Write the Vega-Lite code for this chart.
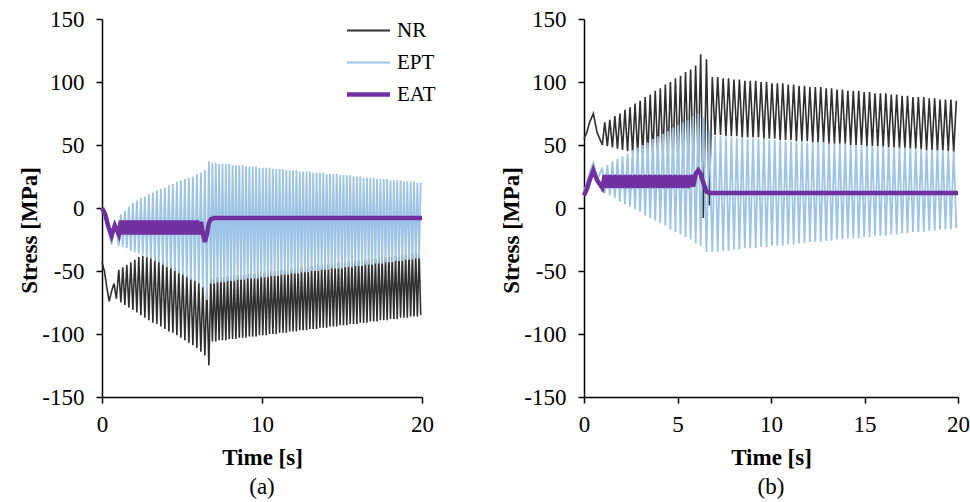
{
"$schema": "https://vega.github.io/schema/vega-lite/v6.json",
"background": "white",
"padding": {"left": 18, "top": 8, "right": 0, "bottom": 4},
"config": {
 "font": "Liberation Serif",
 "view": {"stroke": null},
 "axis": {"grid": false, "domainColor": "#000", "tickColor": "#000", "domainWidth": 1.5, "tickWidth": 1.5, "tickSize": 6, "labelFont": "Liberation Serif", "labelFontSize": 23, "labelColor": "#000", "titleFont": "Liberation Serif", "titleFontSize": 23, "titleColor": "#000", "titleFontWeight": "bold", "labelOverlap": false, "labelFlush": false},
 "title": {"font": "Liberation Serif", "fontSize": 23, "fontWeight": "normal", "color": "#000"}
},
"datasets": {
"a": [
{"s":"NR","t":0,"v":-43},{"s":"NR","t":0.15,"v":-50},{"s":"NR","t":0.3,"v":-63},{"s":"NR","t":0.45,"v":-74},{"s":"NR","t":0.6,"v":-66},{"s":"NR","t":0.75,"v":-60},{"s":"NR","t":0.9,"v":-72},
{"s":"NR","t":1.05,"v":-49},{"s":"NR","t":1.18,"v":-75},{"s":"NR","t":1.30,"v":-47},{"s":"NR","t":1.43,"v":-77},{"s":"NR","t":1.55,"v":-45},{"s":"NR","t":1.68,"v":-79},{"s":"NR","t":1.80,"v":-43},{"s":"NR","t":1.93,"v":-81},{"s":"NR","t":2.05,"v":-41},{"s":"NR","t":2.18,"v":-83},{"s":"NR","t":2.30,"v":-39},{"s":"NR","t":2.43,"v":-85},{"s":"NR","t":2.55,"v":-38},{"s":"NR","t":2.68,"v":-87},{"s":"NR","t":2.80,"v":-39},{"s":"NR","t":2.93,"v":-89},{"s":"NR","t":3.05,"v":-39},{"s":"NR","t":3.18,"v":-91},{"s":"NR","t":3.30,"v":-40},{"s":"NR","t":3.43,"v":-92},{"s":"NR","t":3.55,"v":-41},{"s":"NR","t":3.68,"v":-94},{"s":"NR","t":3.80,"v":-42},{"s":"NR","t":3.93,"v":-96},{"s":"NR","t":4.05,"v":-43},{"s":"NR","t":4.18,"v":-98},{"s":"NR","t":4.30,"v":-45},{"s":"NR","t":4.43,"v":-99},{"s":"NR","t":4.55,"v":-47},{"s":"NR","t":4.68,"v":-101},{"s":"NR","t":4.80,"v":-49},{"s":"NR","t":4.93,"v":-103},{"s":"NR","t":5.05,"v":-51},{"s":"NR","t":5.18,"v":-105},{"s":"NR","t":5.30,"v":-53},{"s":"NR","t":5.43,"v":-107},{"s":"NR","t":5.55,"v":-55},{"s":"NR","t":5.68,"v":-109},{"s":"NR","t":5.80,"v":-57},{"s":"NR","t":5.93,"v":-111},{"s":"NR","t":6.05,"v":-59},{"s":"NR","t":6.18,"v":-114},{"s":"NR","t":6.30,"v":-62},{"s":"NR","t":6.43,"v":-117},{"s":"NR","t":6.55,"v":-64},{"s":"NR","t":6.68,"v":-125},
{"s":"NR","t":6.80,"v":-56},{"s":"NR","t":6.90,"v":-106},{"s":"NR","t":7.01,"v":-56},{"s":"NR","t":7.11,"v":-106},{"s":"NR","t":7.22,"v":-55},{"s":"NR","t":7.32,"v":-105},{"s":"NR","t":7.43,"v":-55},{"s":"NR","t":7.53,"v":-105},{"s":"NR","t":7.64,"v":-55},{"s":"NR","t":7.74,"v":-105},{"s":"NR","t":7.85,"v":-54},{"s":"NR","t":7.95,"v":-104},{"s":"NR","t":8.06,"v":-54},{"s":"NR","t":8.16,"v":-104},{"s":"NR","t":8.27,"v":-54},{"s":"NR","t":8.37,"v":-104},{"s":"NR","t":8.48,"v":-53},{"s":"NR","t":8.58,"v":-103},{"s":"NR","t":8.69,"v":-53},{"s":"NR","t":8.79,"v":-103},{"s":"NR","t":8.90,"v":-53},{"s":"NR","t":9.00,"v":-103},{"s":"NR","t":9.11,"v":-52},{"s":"NR","t":9.21,"v":-102},{"s":"NR","t":9.32,"v":-52},{"s":"NR","t":9.42,"v":-102},{"s":"NR","t":9.53,"v":-52},{"s":"NR","t":9.63,"v":-102},{"s":"NR","t":9.74,"v":-51},{"s":"NR","t":9.84,"v":-101},{"s":"NR","t":9.95,"v":-51},{"s":"NR","t":10.05,"v":-101},{"s":"NR","t":10.16,"v":-51},{"s":"NR","t":10.26,"v":-101},{"s":"NR","t":10.37,"v":-50},{"s":"NR","t":10.47,"v":-100},{"s":"NR","t":10.58,"v":-50},{"s":"NR","t":10.68,"v":-100},{"s":"NR","t":10.79,"v":-50},{"s":"NR","t":10.89,"v":-100},{"s":"NR","t":11.00,"v":-49},{"s":"NR","t":11.10,"v":-99},{"s":"NR","t":11.21,"v":-49},{"s":"NR","t":11.31,"v":-99},{"s":"NR","t":11.42,"v":-49},{"s":"NR","t":11.52,"v":-99},{"s":"NR","t":11.63,"v":-48},{"s":"NR","t":11.73,"v":-98},{"s":"NR","t":11.84,"v":-48},{"s":"NR","t":11.94,"v":-98},{"s":"NR","t":12.05,"v":-48},{"s":"NR","t":12.15,"v":-98},{"s":"NR","t":12.26,"v":-47},{"s":"NR","t":12.36,"v":-97},{"s":"NR","t":12.47,"v":-47},{"s":"NR","t":12.57,"v":-97},{"s":"NR","t":12.68,"v":-47},{"s":"NR","t":12.78,"v":-97},{"s":"NR","t":12.89,"v":-46},{"s":"NR","t":12.99,"v":-96},{"s":"NR","t":13.10,"v":-46},{"s":"NR","t":13.20,"v":-96},{"s":"NR","t":13.31,"v":-46},{"s":"NR","t":13.41,"v":-96},{"s":"NR","t":13.52,"v":-45},{"s":"NR","t":13.62,"v":-95},{"s":"NR","t":13.73,"v":-45},{"s":"NR","t":13.83,"v":-95},{"s":"NR","t":13.94,"v":-45},{"s":"NR","t":14.04,"v":-95},{"s":"NR","t":14.15,"v":-44},{"s":"NR","t":14.25,"v":-94},{"s":"NR","t":14.36,"v":-44},{"s":"NR","t":14.46,"v":-94},{"s":"NR","t":14.57,"v":-44},{"s":"NR","t":14.67,"v":-94},{"s":"NR","t":14.78,"v":-43},{"s":"NR","t":14.88,"v":-93},{"s":"NR","t":14.99,"v":-43},{"s":"NR","t":15.09,"v":-93},{"s":"NR","t":15.20,"v":-43},{"s":"NR","t":15.30,"v":-93},{"s":"NR","t":15.41,"v":-42},{"s":"NR","t":15.51,"v":-92},{"s":"NR","t":15.62,"v":-42},{"s":"NR","t":15.72,"v":-92},{"s":"NR","t":15.83,"v":-42},{"s":"NR","t":15.93,"v":-92},{"s":"NR","t":16.04,"v":-41},{"s":"NR","t":16.14,"v":-91},{"s":"NR","t":16.25,"v":-41},{"s":"NR","t":16.35,"v":-91},{"s":"NR","t":16.46,"v":-41},{"s":"NR","t":16.56,"v":-91},{"s":"NR","t":16.67,"v":-40},{"s":"NR","t":16.77,"v":-90},{"s":"NR","t":16.88,"v":-40},{"s":"NR","t":16.98,"v":-90},{"s":"NR","t":17.09,"v":-40},{"s":"NR","t":17.19,"v":-90},{"s":"NR","t":17.30,"v":-39},{"s":"NR","t":17.40,"v":-89},{"s":"NR","t":17.51,"v":-39},{"s":"NR","t":17.61,"v":-89},{"s":"NR","t":17.72,"v":-39},{"s":"NR","t":17.82,"v":-89},{"s":"NR","t":17.93,"v":-38},{"s":"NR","t":18.03,"v":-88},{"s":"NR","t":18.14,"v":-38},{"s":"NR","t":18.24,"v":-88},{"s":"NR","t":18.35,"v":-38},{"s":"NR","t":18.45,"v":-88},{"s":"NR","t":18.56,"v":-37},{"s":"NR","t":18.66,"v":-87},{"s":"NR","t":18.77,"v":-37},{"s":"NR","t":18.87,"v":-87},{"s":"NR","t":18.98,"v":-37},{"s":"NR","t":19.08,"v":-87},{"s":"NR","t":19.19,"v":-36},{"s":"NR","t":19.29,"v":-86},{"s":"NR","t":19.40,"v":-36},{"s":"NR","t":19.50,"v":-86},{"s":"NR","t":19.61,"v":-36},{"s":"NR","t":19.71,"v":-86},{"s":"NR","t":19.82,"v":-35},{"s":"NR","t":19.92,"v":-85},
{"s":"EPT","t":0,"v":0},{"s":"EPT","t":0.2,"v":-8},{"s":"EPT","t":0.4,"v":-18},{"s":"EPT","t":0.6,"v":-29},{"s":"EPT","t":0.8,"v":-10},
{"s":"EPT","t":1.05,"v":-30},{"s":"EPT","t":1.18,"v":-5},{"s":"EPT","t":1.30,"v":-31},{"s":"EPT","t":1.43,"v":-2},{"s":"EPT","t":1.55,"v":-32},{"s":"EPT","t":1.68,"v":1},{"s":"EPT","t":1.80,"v":-34},{"s":"EPT","t":1.93,"v":4},{"s":"EPT","t":2.05,"v":-35},{"s":"EPT","t":2.18,"v":6},{"s":"EPT","t":2.30,"v":-36},{"s":"EPT","t":2.43,"v":8},{"s":"EPT","t":2.55,"v":-37},{"s":"EPT","t":2.68,"v":9},{"s":"EPT","t":2.80,"v":-39},{"s":"EPT","t":2.93,"v":11},{"s":"EPT","t":3.05,"v":-40},{"s":"EPT","t":3.18,"v":12},{"s":"EPT","t":3.30,"v":-42},{"s":"EPT","t":3.43,"v":14},{"s":"EPT","t":3.55,"v":-43},{"s":"EPT","t":3.68,"v":15},{"s":"EPT","t":3.80,"v":-45},{"s":"EPT","t":3.93,"v":16},{"s":"EPT","t":4.05,"v":-47},{"s":"EPT","t":4.18,"v":18},{"s":"EPT","t":4.30,"v":-48},{"s":"EPT","t":4.43,"v":19},{"s":"EPT","t":4.55,"v":-50},{"s":"EPT","t":4.68,"v":21},{"s":"EPT","t":4.80,"v":-52},{"s":"EPT","t":4.93,"v":22},{"s":"EPT","t":5.05,"v":-53},{"s":"EPT","t":5.18,"v":23},{"s":"EPT","t":5.30,"v":-55},{"s":"EPT","t":5.43,"v":24},{"s":"EPT","t":5.55,"v":-57},{"s":"EPT","t":5.68,"v":25},{"s":"EPT","t":5.80,"v":-58},{"s":"EPT","t":5.93,"v":27},{"s":"EPT","t":6.05,"v":-60},{"s":"EPT","t":6.18,"v":28},{"s":"EPT","t":6.30,"v":-63},{"s":"EPT","t":6.43,"v":30},{"s":"EPT","t":6.55,"v":-73},{"s":"EPT","t":6.68,"v":37},
{"s":"EPT","t":6.80,"v":-60},{"s":"EPT","t":6.90,"v":36},{"s":"EPT","t":7.01,"v":-60},{"s":"EPT","t":7.11,"v":36},{"s":"EPT","t":7.22,"v":-59},{"s":"EPT","t":7.32,"v":35},{"s":"EPT","t":7.43,"v":-59},{"s":"EPT","t":7.53,"v":35},{"s":"EPT","t":7.64,"v":-59},{"s":"EPT","t":7.74,"v":35},{"s":"EPT","t":7.85,"v":-58},{"s":"EPT","t":7.95,"v":35},{"s":"EPT","t":8.06,"v":-58},{"s":"EPT","t":8.16,"v":34},{"s":"EPT","t":8.27,"v":-58},{"s":"EPT","t":8.37,"v":34},{"s":"EPT","t":8.48,"v":-57},{"s":"EPT","t":8.58,"v":34},{"s":"EPT","t":8.69,"v":-57},{"s":"EPT","t":8.79,"v":34},{"s":"EPT","t":8.90,"v":-57},{"s":"EPT","t":9.00,"v":33},{"s":"EPT","t":9.11,"v":-56},{"s":"EPT","t":9.21,"v":33},{"s":"EPT","t":9.32,"v":-56},{"s":"EPT","t":9.42,"v":33},{"s":"EPT","t":9.53,"v":-56},{"s":"EPT","t":9.63,"v":33},{"s":"EPT","t":9.74,"v":-56},{"s":"EPT","t":9.84,"v":32},{"s":"EPT","t":9.95,"v":-55},{"s":"EPT","t":10.05,"v":32},{"s":"EPT","t":10.16,"v":-55},{"s":"EPT","t":10.26,"v":32},{"s":"EPT","t":10.37,"v":-55},{"s":"EPT","t":10.47,"v":32},{"s":"EPT","t":10.58,"v":-54},{"s":"EPT","t":10.68,"v":31},{"s":"EPT","t":10.79,"v":-54},{"s":"EPT","t":10.89,"v":31},{"s":"EPT","t":11.00,"v":-54},{"s":"EPT","t":11.10,"v":31},{"s":"EPT","t":11.21,"v":-53},{"s":"EPT","t":11.31,"v":31},{"s":"EPT","t":11.42,"v":-53},{"s":"EPT","t":11.52,"v":30},{"s":"EPT","t":11.63,"v":-53},{"s":"EPT","t":11.73,"v":30},{"s":"EPT","t":11.84,"v":-52},{"s":"EPT","t":11.94,"v":30},{"s":"EPT","t":12.05,"v":-52},{"s":"EPT","t":12.15,"v":30},{"s":"EPT","t":12.26,"v":-52},{"s":"EPT","t":12.36,"v":29},{"s":"EPT","t":12.47,"v":-51},{"s":"EPT","t":12.57,"v":29},{"s":"EPT","t":12.68,"v":-51},{"s":"EPT","t":12.78,"v":29},{"s":"EPT","t":12.89,"v":-51},{"s":"EPT","t":12.99,"v":29},{"s":"EPT","t":13.10,"v":-50},{"s":"EPT","t":13.20,"v":28},{"s":"EPT","t":13.31,"v":-50},{"s":"EPT","t":13.41,"v":28},{"s":"EPT","t":13.52,"v":-50},{"s":"EPT","t":13.62,"v":28},{"s":"EPT","t":13.73,"v":-49},{"s":"EPT","t":13.83,"v":28},{"s":"EPT","t":13.94,"v":-49},{"s":"EPT","t":14.04,"v":27},{"s":"EPT","t":14.15,"v":-49},{"s":"EPT","t":14.25,"v":27},{"s":"EPT","t":14.36,"v":-48},{"s":"EPT","t":14.46,"v":27},{"s":"EPT","t":14.57,"v":-48},{"s":"EPT","t":14.67,"v":27},{"s":"EPT","t":14.78,"v":-48},{"s":"EPT","t":14.88,"v":26},{"s":"EPT","t":14.99,"v":-48},{"s":"EPT","t":15.09,"v":26},{"s":"EPT","t":15.20,"v":-47},{"s":"EPT","t":15.30,"v":26},{"s":"EPT","t":15.41,"v":-47},{"s":"EPT","t":15.51,"v":26},{"s":"EPT","t":15.62,"v":-47},{"s":"EPT","t":15.72,"v":25},{"s":"EPT","t":15.83,"v":-46},{"s":"EPT","t":15.93,"v":25},{"s":"EPT","t":16.04,"v":-46},{"s":"EPT","t":16.14,"v":25},{"s":"EPT","t":16.25,"v":-46},{"s":"EPT","t":16.35,"v":24},{"s":"EPT","t":16.46,"v":-45},{"s":"EPT","t":16.56,"v":24},{"s":"EPT","t":16.67,"v":-45},{"s":"EPT","t":16.77,"v":24},{"s":"EPT","t":16.88,"v":-45},{"s":"EPT","t":16.98,"v":24},{"s":"EPT","t":17.09,"v":-44},{"s":"EPT","t":17.19,"v":23},{"s":"EPT","t":17.30,"v":-44},{"s":"EPT","t":17.40,"v":23},{"s":"EPT","t":17.51,"v":-44},{"s":"EPT","t":17.61,"v":23},{"s":"EPT","t":17.72,"v":-43},{"s":"EPT","t":17.82,"v":23},{"s":"EPT","t":17.93,"v":-43},{"s":"EPT","t":18.03,"v":22},{"s":"EPT","t":18.14,"v":-43},{"s":"EPT","t":18.24,"v":22},{"s":"EPT","t":18.35,"v":-42},{"s":"EPT","t":18.45,"v":22},{"s":"EPT","t":18.56,"v":-42},{"s":"EPT","t":18.66,"v":22},{"s":"EPT","t":18.77,"v":-42},{"s":"EPT","t":18.87,"v":21},{"s":"EPT","t":18.98,"v":-41},{"s":"EPT","t":19.08,"v":21},{"s":"EPT","t":19.19,"v":-41},{"s":"EPT","t":19.29,"v":21},{"s":"EPT","t":19.40,"v":-41},{"s":"EPT","t":19.50,"v":21},{"s":"EPT","t":19.61,"v":-40},{"s":"EPT","t":19.71,"v":20},{"s":"EPT","t":19.82,"v":-40},{"s":"EPT","t":19.92,"v":20},
{"s":"EAT","t":0,"v":0},{"s":"EAT","t":0.2,"v":-5},{"s":"EAT","t":0.4,"v":-15},{"s":"EAT","t":0.6,"v":-22},{"s":"EAT","t":0.8,"v":-14},
{"s":"EAT","t":1.05,"v":-21},{"s":"EAT","t":1.18,"v":-10},{"s":"EAT","t":1.30,"v":-21},{"s":"EAT","t":1.43,"v":-10},{"s":"EAT","t":1.55,"v":-21},{"s":"EAT","t":1.68,"v":-10},{"s":"EAT","t":1.80,"v":-21},{"s":"EAT","t":1.93,"v":-10},{"s":"EAT","t":2.05,"v":-21},{"s":"EAT","t":2.18,"v":-10},{"s":"EAT","t":2.30,"v":-21},{"s":"EAT","t":2.43,"v":-10},{"s":"EAT","t":2.55,"v":-21},{"s":"EAT","t":2.68,"v":-10},{"s":"EAT","t":2.80,"v":-21},{"s":"EAT","t":2.93,"v":-10},{"s":"EAT","t":3.05,"v":-21},{"s":"EAT","t":3.18,"v":-10},{"s":"EAT","t":3.30,"v":-21},{"s":"EAT","t":3.43,"v":-10},{"s":"EAT","t":3.55,"v":-21},{"s":"EAT","t":3.68,"v":-10},{"s":"EAT","t":3.80,"v":-21},{"s":"EAT","t":3.93,"v":-10},{"s":"EAT","t":4.05,"v":-21},{"s":"EAT","t":4.18,"v":-10},{"s":"EAT","t":4.30,"v":-21},{"s":"EAT","t":4.43,"v":-10},{"s":"EAT","t":4.55,"v":-21},{"s":"EAT","t":4.68,"v":-10},{"s":"EAT","t":4.80,"v":-21},{"s":"EAT","t":4.93,"v":-10},{"s":"EAT","t":5.05,"v":-21},{"s":"EAT","t":5.18,"v":-10},{"s":"EAT","t":5.30,"v":-21},{"s":"EAT","t":5.43,"v":-10},{"s":"EAT","t":5.55,"v":-21},{"s":"EAT","t":5.68,"v":-10},{"s":"EAT","t":5.80,"v":-21},{"s":"EAT","t":5.93,"v":-10},{"s":"EAT","t":6.05,"v":-21},{"s":"EAT","t":6.18,"v":-11},{"s":"EAT","t":6.30,"v":-20},{"s":"EAT","t":6.43,"v":-27},{"s":"EAT","t":6.55,"v":-21},{"s":"EAT","t":6.68,"v":-12},{"s":"EAT","t":6.8,"v":-9},{"s":"EAT","t":7,"v":-8},{"s":"EAT","t":8,"v":-8},{"s":"EAT","t":9,"v":-8},{"s":"EAT","t":10,"v":-8},{"s":"EAT","t":11,"v":-8},{"s":"EAT","t":12,"v":-8},{"s":"EAT","t":13,"v":-8},{"s":"EAT","t":14,"v":-8},{"s":"EAT","t":15,"v":-8},{"s":"EAT","t":16,"v":-8},{"s":"EAT","t":17,"v":-8},{"s":"EAT","t":18,"v":-8},{"s":"EAT","t":19,"v":-8},{"s":"EAT","t":20,"v":-8}
],
"b": [
{"s":"NR","t":0,"v":55},{"s":"NR","t":0.15,"v":60},{"s":"NR","t":0.3,"v":68},{"s":"NR","t":0.5,"v":75},{"s":"NR","t":0.7,"v":60},
{"s":"NR","t":0.98,"v":50},{"s":"NR","t":1.11,"v":68},{"s":"NR","t":1.25,"v":49},{"s":"NR","t":1.38,"v":70},{"s":"NR","t":1.52,"v":48},{"s":"NR","t":1.65,"v":73},{"s":"NR","t":1.79,"v":47},{"s":"NR","t":1.92,"v":75},{"s":"NR","t":2.06,"v":46},{"s":"NR","t":2.19,"v":78},{"s":"NR","t":2.33,"v":45},{"s":"NR","t":2.46,"v":80},{"s":"NR","t":2.60,"v":44},{"s":"NR","t":2.73,"v":83},{"s":"NR","t":2.87,"v":43},{"s":"NR","t":3.00,"v":85},{"s":"NR","t":3.14,"v":42},{"s":"NR","t":3.27,"v":88},{"s":"NR","t":3.41,"v":41},{"s":"NR","t":3.54,"v":90},{"s":"NR","t":3.68,"v":41},{"s":"NR","t":3.81,"v":93},{"s":"NR","t":3.95,"v":40},{"s":"NR","t":4.08,"v":95},{"s":"NR","t":4.22,"v":40},{"s":"NR","t":4.35,"v":98},{"s":"NR","t":4.49,"v":39},{"s":"NR","t":4.62,"v":100},{"s":"NR","t":4.76,"v":39},{"s":"NR","t":4.89,"v":103},{"s":"NR","t":5.03,"v":38},{"s":"NR","t":5.16,"v":105},{"s":"NR","t":5.30,"v":38},{"s":"NR","t":5.43,"v":108},{"s":"NR","t":5.57,"v":37},{"s":"NR","t":5.70,"v":110},{"s":"NR","t":5.84,"v":37},{"s":"NR","t":5.97,"v":113},{"s":"NR","t":6.11,"v":36},{"s":"NR","t":6.24,"v":122},{"s":"NR","t":6.38,"v":-8},{"s":"NR","t":6.55,"v":118},{"s":"NR","t":6.70,"v":2},
{"s":"NR","t":6.86,"v":104},{"s":"NR","t":7.01,"v":58},{"s":"NR","t":7.15,"v":104},{"s":"NR","t":7.30,"v":58},{"s":"NR","t":7.44,"v":103},{"s":"NR","t":7.59,"v":57},{"s":"NR","t":7.73,"v":103},{"s":"NR","t":7.88,"v":57},{"s":"NR","t":8.02,"v":102},{"s":"NR","t":8.17,"v":57},{"s":"NR","t":8.31,"v":102},{"s":"NR","t":8.46,"v":56},{"s":"NR","t":8.60,"v":101},{"s":"NR","t":8.75,"v":56},{"s":"NR","t":8.89,"v":101},{"s":"NR","t":9.04,"v":56},{"s":"NR","t":9.18,"v":101},{"s":"NR","t":9.33,"v":56},{"s":"NR","t":9.47,"v":100},{"s":"NR","t":9.62,"v":55},{"s":"NR","t":9.76,"v":100},{"s":"NR","t":9.91,"v":55},{"s":"NR","t":10.05,"v":99},{"s":"NR","t":10.20,"v":55},{"s":"NR","t":10.34,"v":99},{"s":"NR","t":10.49,"v":54},{"s":"NR","t":10.63,"v":99},{"s":"NR","t":10.78,"v":54},{"s":"NR","t":10.92,"v":98},{"s":"NR","t":11.07,"v":54},{"s":"NR","t":11.21,"v":98},{"s":"NR","t":11.36,"v":53},{"s":"NR","t":11.50,"v":97},{"s":"NR","t":11.65,"v":53},{"s":"NR","t":11.79,"v":97},{"s":"NR","t":11.94,"v":53},{"s":"NR","t":12.08,"v":96},{"s":"NR","t":12.23,"v":52},{"s":"NR","t":12.37,"v":96},{"s":"NR","t":12.52,"v":52},{"s":"NR","t":12.66,"v":96},{"s":"NR","t":12.81,"v":52},{"s":"NR","t":12.95,"v":95},{"s":"NR","t":13.10,"v":51},{"s":"NR","t":13.24,"v":95},{"s":"NR","t":13.39,"v":51},{"s":"NR","t":13.53,"v":94},{"s":"NR","t":13.68,"v":51},{"s":"NR","t":13.82,"v":94},{"s":"NR","t":13.97,"v":51},{"s":"NR","t":14.11,"v":93},{"s":"NR","t":14.26,"v":50},{"s":"NR","t":14.40,"v":93},{"s":"NR","t":14.55,"v":50},{"s":"NR","t":14.69,"v":93},{"s":"NR","t":14.84,"v":50},{"s":"NR","t":14.98,"v":92},{"s":"NR","t":15.13,"v":49},{"s":"NR","t":15.27,"v":92},{"s":"NR","t":15.42,"v":49},{"s":"NR","t":15.56,"v":91},{"s":"NR","t":15.71,"v":49},{"s":"NR","t":15.85,"v":91},{"s":"NR","t":16.00,"v":48},{"s":"NR","t":16.14,"v":91},{"s":"NR","t":16.29,"v":48},{"s":"NR","t":16.43,"v":90},{"s":"NR","t":16.58,"v":48},{"s":"NR","t":16.72,"v":90},{"s":"NR","t":16.87,"v":47},{"s":"NR","t":17.01,"v":89},{"s":"NR","t":17.16,"v":47},{"s":"NR","t":17.30,"v":89},{"s":"NR","t":17.45,"v":47},{"s":"NR","t":17.59,"v":88},{"s":"NR","t":17.74,"v":47},{"s":"NR","t":17.88,"v":88},{"s":"NR","t":18.03,"v":46},{"s":"NR","t":18.17,"v":88},{"s":"NR","t":18.32,"v":46},{"s":"NR","t":18.46,"v":87},{"s":"NR","t":18.61,"v":46},{"s":"NR","t":18.75,"v":87},{"s":"NR","t":18.90,"v":45},{"s":"NR","t":19.04,"v":86},{"s":"NR","t":19.19,"v":45},{"s":"NR","t":19.33,"v":86},{"s":"NR","t":19.48,"v":45},{"s":"NR","t":19.62,"v":86},{"s":"NR","t":19.77,"v":44},{"s":"NR","t":19.91,"v":85},
{"s":"EPT","t":0,"v":13},{"s":"EPT","t":0.15,"v":20},{"s":"EPT","t":0.3,"v":28},{"s":"EPT","t":0.5,"v":36},{"s":"EPT","t":0.7,"v":22},
{"s":"EPT","t":0.98,"v":32},{"s":"EPT","t":1.11,"v":12},{"s":"EPT","t":1.25,"v":34},{"s":"EPT","t":1.38,"v":10},{"s":"EPT","t":1.52,"v":37},{"s":"EPT","t":1.65,"v":8},{"s":"EPT","t":1.79,"v":39},{"s":"EPT","t":1.92,"v":5},{"s":"EPT","t":2.06,"v":41},{"s":"EPT","t":2.19,"v":3},{"s":"EPT","t":2.33,"v":43},{"s":"EPT","t":2.46,"v":1},{"s":"EPT","t":2.60,"v":46},{"s":"EPT","t":2.73,"v":-1},{"s":"EPT","t":2.87,"v":48},{"s":"EPT","t":3.00,"v":-3},{"s":"EPT","t":3.14,"v":50},{"s":"EPT","t":3.27,"v":-6},{"s":"EPT","t":3.41,"v":52},{"s":"EPT","t":3.54,"v":-8},{"s":"EPT","t":3.68,"v":55},{"s":"EPT","t":3.81,"v":-10},{"s":"EPT","t":3.95,"v":57},{"s":"EPT","t":4.08,"v":-12},{"s":"EPT","t":4.22,"v":59},{"s":"EPT","t":4.35,"v":-14},{"s":"EPT","t":4.49,"v":61},{"s":"EPT","t":4.62,"v":-17},{"s":"EPT","t":4.76,"v":64},{"s":"EPT","t":4.89,"v":-19},{"s":"EPT","t":5.03,"v":66},{"s":"EPT","t":5.16,"v":-21},{"s":"EPT","t":5.30,"v":68},{"s":"EPT","t":5.43,"v":-23},{"s":"EPT","t":5.57,"v":70},{"s":"EPT","t":5.70,"v":-25},{"s":"EPT","t":5.84,"v":73},{"s":"EPT","t":5.97,"v":-28},{"s":"EPT","t":6.11,"v":75},{"s":"EPT","t":6.24,"v":-30},{"s":"EPT","t":6.38,"v":72},{"s":"EPT","t":6.55,"v":-35},{"s":"EPT","t":6.70,"v":62},
{"s":"EPT","t":6.86,"v":-35},{"s":"EPT","t":7.01,"v":57},{"s":"EPT","t":7.15,"v":-35},{"s":"EPT","t":7.30,"v":57},{"s":"EPT","t":7.44,"v":-34},{"s":"EPT","t":7.59,"v":56},{"s":"EPT","t":7.73,"v":-34},{"s":"EPT","t":7.88,"v":56},{"s":"EPT","t":8.02,"v":-33},{"s":"EPT","t":8.17,"v":56},{"s":"EPT","t":8.31,"v":-33},{"s":"EPT","t":8.46,"v":56},{"s":"EPT","t":8.60,"v":-32},{"s":"EPT","t":8.75,"v":55},{"s":"EPT","t":8.89,"v":-32},{"s":"EPT","t":9.04,"v":55},{"s":"EPT","t":9.18,"v":-32},{"s":"EPT","t":9.33,"v":55},{"s":"EPT","t":9.47,"v":-31},{"s":"EPT","t":9.62,"v":55},{"s":"EPT","t":9.76,"v":-31},{"s":"EPT","t":9.91,"v":54},{"s":"EPT","t":10.05,"v":-30},{"s":"EPT","t":10.20,"v":54},{"s":"EPT","t":10.34,"v":-30},{"s":"EPT","t":10.49,"v":54},{"s":"EPT","t":10.63,"v":-30},{"s":"EPT","t":10.78,"v":53},{"s":"EPT","t":10.92,"v":-29},{"s":"EPT","t":11.07,"v":53},{"s":"EPT","t":11.21,"v":-29},{"s":"EPT","t":11.36,"v":53},{"s":"EPT","t":11.50,"v":-28},{"s":"EPT","t":11.65,"v":53},{"s":"EPT","t":11.79,"v":-28},{"s":"EPT","t":11.94,"v":52},{"s":"EPT","t":12.08,"v":-27},{"s":"EPT","t":12.23,"v":52},{"s":"EPT","t":12.37,"v":-27},{"s":"EPT","t":12.52,"v":52},{"s":"EPT","t":12.66,"v":-27},{"s":"EPT","t":12.81,"v":52},{"s":"EPT","t":12.95,"v":-26},{"s":"EPT","t":13.10,"v":51},{"s":"EPT","t":13.24,"v":-26},{"s":"EPT","t":13.39,"v":51},{"s":"EPT","t":13.53,"v":-25},{"s":"EPT","t":13.68,"v":51},{"s":"EPT","t":13.82,"v":-25},{"s":"EPT","t":13.97,"v":51},{"s":"EPT","t":14.11,"v":-24},{"s":"EPT","t":14.26,"v":50},{"s":"EPT","t":14.40,"v":-24},{"s":"EPT","t":14.55,"v":50},{"s":"EPT","t":14.69,"v":-24},{"s":"EPT","t":14.84,"v":50},{"s":"EPT","t":14.98,"v":-23},{"s":"EPT","t":15.13,"v":49},{"s":"EPT","t":15.27,"v":-23},{"s":"EPT","t":15.42,"v":49},{"s":"EPT","t":15.56,"v":-22},{"s":"EPT","t":15.71,"v":49},{"s":"EPT","t":15.85,"v":-22},{"s":"EPT","t":16.00,"v":49},{"s":"EPT","t":16.14,"v":-22},{"s":"EPT","t":16.29,"v":48},{"s":"EPT","t":16.43,"v":-21},{"s":"EPT","t":16.58,"v":48},{"s":"EPT","t":16.72,"v":-21},{"s":"EPT","t":16.87,"v":48},{"s":"EPT","t":17.01,"v":-20},{"s":"EPT","t":17.16,"v":48},{"s":"EPT","t":17.30,"v":-20},{"s":"EPT","t":17.45,"v":47},{"s":"EPT","t":17.59,"v":-19},{"s":"EPT","t":17.74,"v":47},{"s":"EPT","t":17.88,"v":-19},{"s":"EPT","t":18.03,"v":47},{"s":"EPT","t":18.17,"v":-19},{"s":"EPT","t":18.32,"v":46},{"s":"EPT","t":18.46,"v":-18},{"s":"EPT","t":18.61,"v":46},{"s":"EPT","t":18.75,"v":-18},{"s":"EPT","t":18.90,"v":46},{"s":"EPT","t":19.04,"v":-17},{"s":"EPT","t":19.19,"v":46},{"s":"EPT","t":19.33,"v":-17},{"s":"EPT","t":19.48,"v":45},{"s":"EPT","t":19.62,"v":-17},{"s":"EPT","t":19.77,"v":45},{"s":"EPT","t":19.91,"v":-16},
{"s":"EAT","t":0,"v":10},{"s":"EAT","t":0.15,"v":15},{"s":"EAT","t":0.3,"v":22},{"s":"EAT","t":0.5,"v":30},{"s":"EAT","t":0.7,"v":22},
{"s":"EAT","t":0.98,"v":16},{"s":"EAT","t":1.11,"v":26},{"s":"EAT","t":1.25,"v":16},{"s":"EAT","t":1.38,"v":26},{"s":"EAT","t":1.52,"v":16},{"s":"EAT","t":1.65,"v":26},{"s":"EAT","t":1.79,"v":16},{"s":"EAT","t":1.92,"v":26},{"s":"EAT","t":2.06,"v":16},{"s":"EAT","t":2.19,"v":26},{"s":"EAT","t":2.33,"v":16},{"s":"EAT","t":2.46,"v":26},{"s":"EAT","t":2.60,"v":16},{"s":"EAT","t":2.73,"v":26},{"s":"EAT","t":2.87,"v":16},{"s":"EAT","t":3.00,"v":26},{"s":"EAT","t":3.14,"v":16},{"s":"EAT","t":3.27,"v":26},{"s":"EAT","t":3.41,"v":16},{"s":"EAT","t":3.54,"v":26},{"s":"EAT","t":3.68,"v":16},{"s":"EAT","t":3.81,"v":26},{"s":"EAT","t":3.95,"v":16},{"s":"EAT","t":4.08,"v":26},{"s":"EAT","t":4.22,"v":16},{"s":"EAT","t":4.35,"v":26},{"s":"EAT","t":4.49,"v":16},{"s":"EAT","t":4.62,"v":26},{"s":"EAT","t":4.76,"v":16},{"s":"EAT","t":4.89,"v":26},{"s":"EAT","t":5.03,"v":16},{"s":"EAT","t":5.16,"v":26},{"s":"EAT","t":5.30,"v":16},{"s":"EAT","t":5.43,"v":26},{"s":"EAT","t":5.57,"v":16},{"s":"EAT","t":5.70,"v":26},{"s":"EAT","t":5.84,"v":17},{"s":"EAT","t":5.97,"v":27},{"s":"EAT","t":6.11,"v":30},{"s":"EAT","t":6.24,"v":27},{"s":"EAT","t":6.38,"v":20},{"s":"EAT","t":6.55,"v":13},{"s":"EAT","t":6.7,"v":12},{"s":"EAT","t":7,"v":12},{"s":"EAT","t":8,"v":12},{"s":"EAT","t":9,"v":12},{"s":"EAT","t":10,"v":12},{"s":"EAT","t":11,"v":12},{"s":"EAT","t":12,"v":12},{"s":"EAT","t":13,"v":12},{"s":"EAT","t":14,"v":12},{"s":"EAT","t":15,"v":12},{"s":"EAT","t":16,"v":12},{"s":"EAT","t":17,"v":12},{"s":"EAT","t":18,"v":12},{"s":"EAT","t":19,"v":12},{"s":"EAT","t":20,"v":12}
]
},
"resolve": {"scale": {"color": "independent"}, "legend": {"color": "independent"}},
"spacing": 64,
"hconcat": [
 {
  "width": 320, "height": 378,
  "data": {"name": "a"},
  "title": {"text": "(a)", "orient": "bottom", "offset": 7, "font": "Liberation Serif", "fontSize": 23, "fontWeight": "normal"},
  "encoding": {
   "x": {"field": "t", "type": "quantitative", "scale": {"domain": [0, 20], "nice": false}, "axis": {"values": [0, 10, 20], "title": "Time [s]", "labelFont": "Liberation Serif", "titleFont": "Liberation Serif", "labelFontSize": 23, "titleFontSize": 23, "titleFontWeight": "bold", "labelPadding": 10, "titlePadding": 10}},
   "y": {"field": "v", "type": "quantitative", "scale": {"domain": [-150, 150], "nice": false}, "axis": {"values": [-150, -100, -50, 0, 50, 100, 150], "title": "Stress [MPa]", "labelExpr": "replace(datum.label, '\u2212', '-')", "labelFont": "Liberation Serif", "titleFont": "Liberation Serif", "labelFontSize": 23, "titleFontSize": 23, "titleFontWeight": "bold", "labelPadding": 12, "titlePadding": 0, "titleY": 211}},
   "color": {"field": "s", "type": "nominal", "scale": {"domain": ["NR", "EPT", "EAT"], "range": ["#2f2f2f", "#9dc3e6", "#7030a0"]},
    "legend": {"orient": "none", "legendX": 256, "legendY": 1, "title": null, "symbolType": "M-2,0H2", "symbolSize": 462, "symbolStrokeWidth": 2.5, "labelFont": "Liberation Serif", "labelFontSize": 21, "labelColor": "#000", "labelOffset": 18, "rowPadding": 10,
     "encode": {"symbols": {"update": {"strokeWidth": {"signal": "datum.value === 'EAT' ? 4.5 : 2"}}}}}}
  },
  "layer": [
   {"transform": [{"filter": "datum.s === 'NR'"}], "mark": {"type": "line", "strokeWidth": 1.6}},
   {"transform": [{"filter": "datum.s === 'EPT'"}], "mark": {"type": "line", "strokeWidth": 1.8}},
   {"transform": [{"filter": "datum.s === 'EAT'"}], "mark": {"type": "line", "strokeWidth": 4.5}}
  ]
 },
 {
  "width": 374, "height": 378,
  "data": {"name": "b"},
  "title": {"text": "(b)", "orient": "bottom", "offset": 7, "font": "Liberation Serif", "fontSize": 23, "fontWeight": "normal"},
  "encoding": {
   "x": {"field": "t", "type": "quantitative", "scale": {"domain": [0, 20], "nice": false}, "axis": {"values": [0, 5, 10, 15, 20], "title": "Time [s]", "labelFont": "Liberation Serif", "titleFont": "Liberation Serif", "labelFontSize": 23, "titleFontSize": 23, "titleFontWeight": "bold", "labelPadding": 10, "titlePadding": 10}},
   "y": {"field": "v", "type": "quantitative", "scale": {"domain": [-150, 150], "nice": false}, "axis": {"values": [-150, -100, -50, 0, 50, 100, 150], "title": "Stress [MPa]", "labelExpr": "replace(datum.label, '\u2212', '-')", "labelFont": "Liberation Serif", "titleFont": "Liberation Serif", "labelFontSize": 23, "titleFontSize": 23, "titleFontWeight": "bold", "labelPadding": 12, "titlePadding": 0, "titleY": 211}},
   "color": {"field": "s", "type": "nominal", "scale": {"domain": ["NR", "EPT", "EAT"], "range": ["#2f2f2f", "#9dc3e6", "#7030a0"]}, "legend": null}
  },
  "layer": [
   {"transform": [{"filter": "datum.s === 'NR'"}], "mark": {"type": "line", "strokeWidth": 1.6}},
   {"transform": [{"filter": "datum.s === 'EPT'"}], "mark": {"type": "line", "strokeWidth": 1.8}},
   {"transform": [{"filter": "datum.s === 'EAT'"}], "mark": {"type": "line", "strokeWidth": 4.5}}
  ]
 }
]
}
